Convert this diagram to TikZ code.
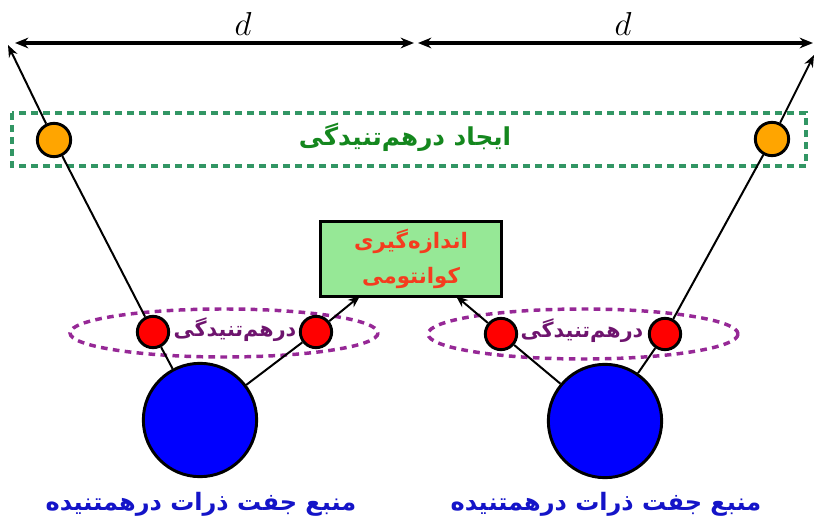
\documentclass[tikz,border=0pt]{standalone}
\usepackage{fontspec}
\usetikzlibrary{arrows.meta}
\TeXXeTstate=1
\newfontfamily\arabicfont[Script=Arabic]{DejaVu Sans}
\definecolor{gtext}{RGB}{20,135,30}
\definecolor{gdash}{RGB}{50,150,100}
\definecolor{orng}{RGB}{255,165,0}
\definecolor{boxfill}{RGB}{150,232,150}
\definecolor{rtext}{RGB}{245,60,30}
\definecolor{purp}{RGB}{150,40,150}
\definecolor{ptext}{RGB}{110,20,110}
\definecolor{btext}{RGB}{20,20,200}
\tikzset{
  orangeball/.style={circle,draw=black,line width=2.2pt,fill=orng,minimum size=25pt,inner sep=0pt},
  redball/.style={circle,draw=black,line width=2.2pt,fill=red,minimum size=23.5pt,inner sep=0pt},
  blueball/.style={circle,draw=black,line width=2.2pt,fill=blue,minimum size=85pt,inner sep=0pt},
  ray/.style={draw=black,line width=1.5pt},
  rayarrow/.style={ray,-{Stealth[length=9pt,width=7pt]}},
  dimarrow/.style={draw=black,line width=2.4pt,{Stealth[length=10pt,width=8pt]}-{Stealth[length=10pt,width=8pt]}},
  pairring/.style={draw=purp,line width=2.6pt,dash pattern=on 5pt off 4pt},
}
\begin{document}
\begin{tikzpicture}[x=0.75pt,y=-0.75pt]
\useasboundingbox (0,0) rectangle (815,528);
% dimension arrows
\coordinate (dl) at (15,43);
\coordinate (dm1) at (414,43);
\coordinate (dm2) at (418,43);
\coordinate (dr) at (813,43);
\draw[dimarrow] (dl) -- (dm1);
\draw[dimarrow] (dm2) -- (dr);
\node (d1) at (243,24) {\fontsize{24}{26}\selectfont $d$};
\node (d2) at (623,24) {\fontsize{24}{26}\selectfont $d$};
% entanglement creation box
\draw[gdash,line width=2.4pt,dash pattern=on 5pt off 4pt] (12,113) rectangle (806,166);
\node[text=gtext] (create) at (405,137) {\arabicfont\bfseries\fontsize{18.5}{20}\selectfont\beginR ایجاد درهم‌تنیدگی\endR};
% measurement box
\node[draw=black,line width=2.4pt,fill=boxfill,minimum width=136pt,minimum height=56pt,align=center,text=rtext,font=\arabicfont\bfseries\fontsize{16}{26}\selectfont] (meas) at (411,259) {\beginR اندازه‌گیری\endR\\ \beginR کوانتومی\endR};
% rings
\draw[pairring] (224,333) ellipse (154 and 24);
\draw[pairring] (583,334) ellipse (155 and 25);
\node[text=ptext] (lbl1) at (235,330) {\arabicfont\bfseries\fontsize{15.5}{18}\selectfont\beginR درهم‌تنیدگی\endR};
\node[text=ptext] (lbl2) at (582,331) {\arabicfont\bfseries\fontsize{15.5}{18}\selectfont\beginR درهم‌تنیدگی\endR};
% coordinates for ray tips
\coordinate (tipL) at (8,45);
\coordinate (tipR) at (814,55);
\coordinate (measL) at (360,296);
\coordinate (measR) at (456,296);
% rays (drawn first, behind the balls)
\coordinate (sL) at (200,420);
\coordinate (sR) at (605,421);
% blue sources
\node[blueball] (srcL) at (sL) {};
\node[blueball] (srcR) at (sR) {};
% red particles
\node[redball] (rL1) at (153,332) {};
\node[redball] (rL2) at (316,332) {};
\node[redball] (rR1) at (501,334) {};
\node[redball] (rR2) at (665,334) {};
% orange
\node[orangeball] (oL) at (54,140) {};
\node[orangeball] (oR) at (772,139) {};
% rays
\draw[ray] (srcL) -- (rL1);
\draw[ray] (rL1) -- (oL);
\draw[rayarrow] (oL) -- (tipL);
\draw[ray] (srcL) -- (rL2);
\draw[rayarrow] (rL2) -- (measL);
\draw[ray] (srcR) -- (rR2);
\draw[ray] (rR2) -- (oR);
\draw[rayarrow] (oR) -- (tipR);
\draw[ray] (srcR) -- (rR1);
\draw[rayarrow] (rR1) -- (measR);
% bottom labels
\node[text=btext] (capL) at (201,504) {\arabicfont\bfseries\fontsize{18}{20}\selectfont\beginR منبع جفت ذرات درهمتنیده\endR};
\node[text=btext] (capR) at (606,504) {\arabicfont\bfseries\fontsize{18}{20}\selectfont\beginR منبع جفت ذرات درهمتنیده\endR};
\end{tikzpicture}
\end{document}
